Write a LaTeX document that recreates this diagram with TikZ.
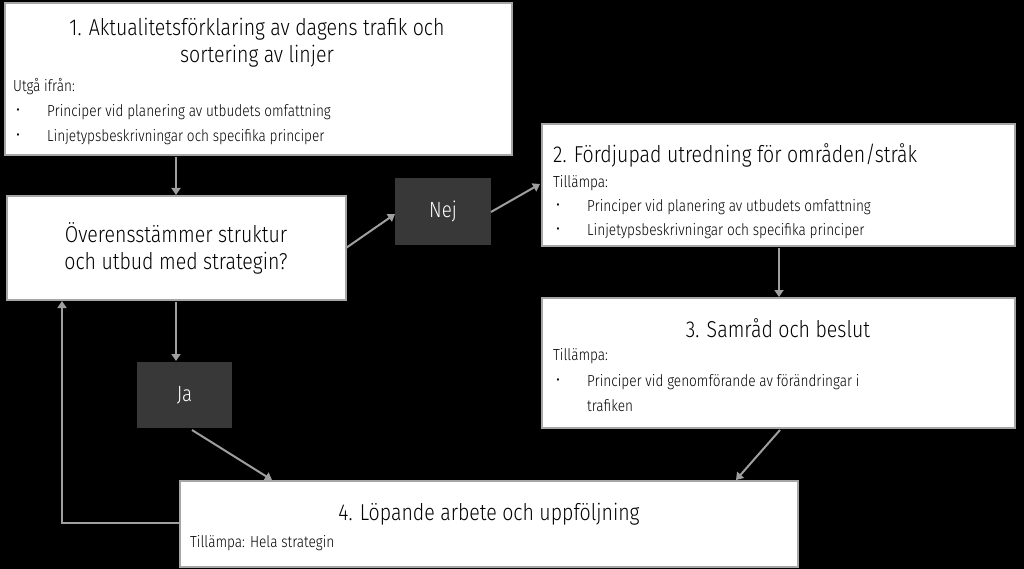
\documentclass[tikz,border=0pt]{standalone}
\usepackage{fontspec}
\setmainfont{Fira Sans Light}[FakeStretch=0.85]
\usetikzlibrary{arrows.meta}
\begin{document}
\begin{tikzpicture}[x=1pt,y=-1pt,
  box/.style={draw=gray!70,line width=1.5pt,fill=white},
  dbox/.style={fill=black!78,draw=none},
  arr/.style={draw=gray!75,line width=2pt,-{Triangle[length=7pt,width=9pt]}},
  ttl/.style={font=\fontsize{23}{27}\selectfont,align=center,inner sep=0},
  bd/.style={font=\fontsize{16}{19}\selectfont,anchor=west,inner sep=0},
  lbl/.style={font=\fontsize{22}{26}\selectfont,text=white}]
\useasboundingbox[fill=black] (0,0) rectangle (1024,569);
\path[box] (5,3) rectangle (512,155);
\path[box] (7,196) rectangle (346,300);
\path[box] (542,124) rectangle (1015,246);
\path[box] (542,298) rectangle (1015,428);
\path[box] (180,481) rectangle (798,567);
\node[dbox,minimum width=96pt,minimum height=67pt] (nej) at (443,211.5) {};
\node[lbl] at (nej) {Nej};
\node[dbox,minimum width=95pt,minimum height=66pt] (ja) at (184.5,395) {};
\node[lbl] at (ja) {Ja};
% texts
\node[ttl] at (257,43) {1. Aktualitetsförklaring av dagens trafik och\\sortering av linjer};
\node[bd] at (13,87) {Utgå ifrån:};
\node[bd] at (16,112) {•}; \node[bd] at (47,112) {Principer vid planering av utbudets omfattning};
\node[bd] at (16,137) {•}; \node[bd] at (47,137) {Linjetypsbeskrivningar och specifika principer};
\node[ttl] at (176,248) {Överensstämmer struktur\\och utbud med strategin?};
\node[ttl,anchor=west] at (553,155) {2. Fördjupad utredning för områden/stråk};
\node[bd] at (553,183) {Tillämpa:};
\node[bd] at (556,207) {•}; \node[bd] at (587,207) {Principer vid planering av utbudets omfattning};
\node[bd] at (556,231) {•}; \node[bd] at (587,231) {Linjetypsbeskrivningar och specifika principer};
\node[ttl] at (778,328) {3. Samråd och beslut};
\node[bd] at (553,356) {Tillämpa:};
\node[bd] at (556,382) {•}; \node[bd] at (587,382) {Principer vid genomförande av förändringar i};
\node[bd] at (587,406) {trafiken};
\node[ttl] at (489,514) {4. Löpande arbete och uppföljning};
\node[bd] at (190,543) {Tillämpa: Hela strategin};
% arrows
\coordinate (a1) at (176,157); \coordinate (a2) at (176,195);
\draw[arr] (a1) -- (a2);
\coordinate (q1) at (346,248); \coordinate (n1) at (395,214);
\draw[arr] (q1) -- (n1);
\coordinate (n2) at (491,212); \coordinate (b2) at (540,184);
\draw[arr] (n2) -- (b2);
\coordinate (c1) at (779,248); \coordinate (c2) at (779,297);
\draw[arr] (c1) -- (c2);
\coordinate (q2) at (176,302); \coordinate (j1) at (176,361);
\draw[arr] (q2) -- (j1);
\coordinate (j2) at (192,430); \coordinate (d1) at (272,480);
\draw[arr] (j2) -- (d1);
\coordinate (e1) at (780,430); \coordinate (d2) at (736,480);
\draw[arr] (e1) -- (d2);
\coordinate (f1) at (179,523); \coordinate (f2) at (62,301);
\draw[arr] (f1) -- (62,523) -- (f2);
\end{tikzpicture}
\end{document}
